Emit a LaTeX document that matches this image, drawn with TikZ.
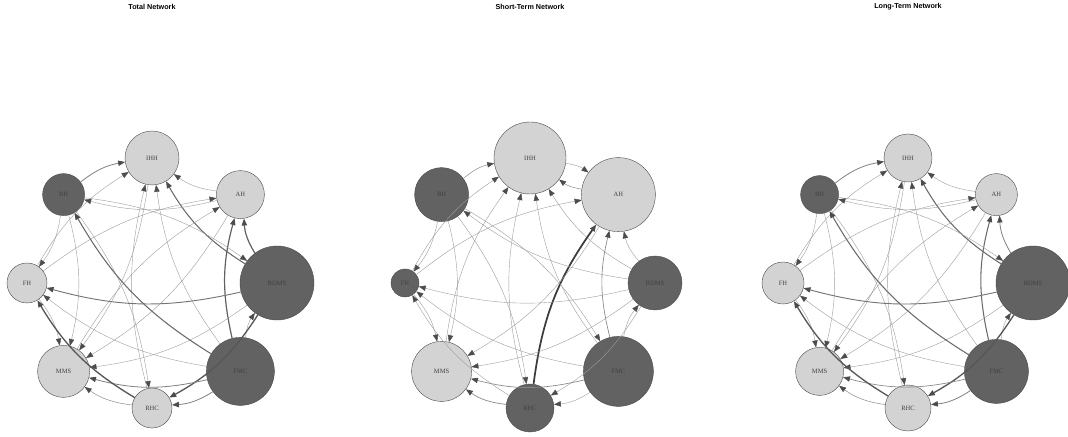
\documentclass[tikz,border=0pt]{standalone}
\usepackage{fontspec}
\setmainfont{Liberation Serif}
\newfontfamily\titlefont{Liberation Sans}
\usetikzlibrary{arrows.meta}
\definecolor{cLight}{HTML}{D3D3D3}
\definecolor{cDark}{HTML}{626262}
\definecolor{cHead}{HTML}{4C4C4C}
\definecolor{cRim}{HTML}{4A4A4A}
\tikzset{
  hosp/.style={circle,draw=cRim,line width=0.3pt,inner sep=0pt,
    font=\fontsize{4.9}{5}\selectfont,text=black!75},
  hosp-light/.style={hosp,fill=cLight},
  hosp-dark/.style={hosp,fill=cDark},
  link/.style={-{Triangle[length=5.2pt,width=4pt,color=cHead]},bend left=14},
  panel-title/.style={font=\titlefont\bfseries\fontsize{5.4}{6}\selectfont},
}

\begin{document}
\begin{tikzpicture}[x=0.75pt,y=0.75pt]
  \useasboundingbox (0,0) rectangle (1068,436);

  % total network
  \begin{scope}[shift={(152,153)}]
    \node[panel-title] (t-title) at (0,276) {Total Network};
    \foreach \n/\a/\d/\s in {IHH/90/40.5/light,AH/45/36/light,BDMS/0/55.5/dark,
        FMC/-45/51/dark,RHC/-90/30/light,MMS/-135/39/light,FH/180/30/light,BH/135/31.5/dark}
      \node[hosp-\s,minimum size=\d pt] (t-\n) at (\a:125) {\n};
    \foreach \a/\b/\w in {BH/IHH/0.6,FH/IHH/0.3,RHC/IHH/0.3,FMC/IHH/0.3,BDMS/IHH/0.8,
        AH/IHH/0.3,FH/AH/0.3,MMS/AH/0.3,FMC/AH/0.9,BDMS/AH/0.9,BH/BDMS/0.3,
        FMC/BDMS/0.3,BH/RHC/0.3,BDMS/RHC/1.0,FMC/RHC/0.6,FH/MMS/0.3,BH/MMS/0.3,
        IHH/MMS/0.3,AH/MMS/0.3,BDMS/MMS/0.3,FMC/MMS/0.6,RHC/MMS/0.4,BH/FH/0.3,
        BDMS/FH/0.7,FMC/FH/0.3,RHC/FH/1.0,AH/BH/0.3,FMC/BH/0.8}
    {
      \pgfmathtruncatemacro\shade{28+38*\w}
      \draw[link,line width=\w pt,draw=black!\shade] (t-\a) to (t-\b);
    }
  \end{scope}

  % short-term network
  \begin{scope}[shift={(530,153)}]
    \node[panel-title] (s-title) at (0,276) {Short-Term Network};
    \foreach \n/\a/\d/\s in {IHH/90/54/light,AH/45/55.5/light,BDMS/0/40.5/dark,
        FMC/-45/52.5/dark,RHC/-90/36/dark,MMS/-135/45/light,FH/180/21/dark,BH/135/40.5/dark}
      \node[hosp-\s,minimum size=\d pt] (s-\n) at (\a:125) {\n};
    \foreach \a/\b/\w in {BH/IHH/0.4,FH/IHH/0.3,MMS/IHH/0.3,RHC/IHH/0.3,FMC/IHH/0.3,
        BDMS/IHH/0.3,AH/IHH/0.4,IHH/AH/0.3,FH/AH/0.3,RHC/AH/1.3,FMC/AH/0.5,BDMS/AH/0.3,
        FMC/BDMS/0.3,BH/FMC/0.3,BH/RHC/0.3,BDMS/RHC/0.3,FMC/RHC/0.3,FH/MMS/0.3,
        BH/MMS/0.3,AH/MMS/0.3,BDMS/MMS/0.3,FMC/MMS/0.5,RHC/MMS/0.5,BH/FH/0.3,
        BDMS/FH/0.3,FMC/FH/0.3,RHC/FH/0.3,BDMS/BH/0.3}
    {
      \pgfmathtruncatemacro\shade{28+38*\w}
      \draw[link,line width=\w pt,draw=black!\shade] (s-\a) to (s-\b);
    }
  \end{scope}

  % long-term network
  \begin{scope}[shift={(908,153)}]
    \node[panel-title] (l-title) at (0,276) {Long-Term Network};
    \foreach \n/\a/\d/\s in {IHH/90/36/light,AH/45/31.5/light,BDMS/0/55.5/dark,
        FMC/-45/48/dark,RHC/-90/34.5/light,MMS/-135/36/light,FH/180/31.5/light,BH/135/28.5/dark}
      \node[hosp-\s,minimum size=\d pt] (l-\n) at (\a:125) {\n};
    \foreach \a/\b/\w in {BH/IHH/0.6,FH/IHH/0.3,RHC/IHH/0.3,FMC/IHH/0.3,BDMS/IHH/0.8,
        AH/IHH/0.3,FH/AH/0.3,MMS/AH/0.3,FMC/AH/0.8,BDMS/AH/0.6,BH/BDMS/0.3,
        FMC/BDMS/0.3,BH/RHC/0.3,BDMS/RHC/1.0,FMC/RHC/0.6,FH/MMS/0.3,BH/MMS/0.3,
        IHH/MMS/0.3,AH/MMS/0.3,BDMS/MMS/0.3,FMC/MMS/0.5,RHC/MMS/0.4,BH/FH/0.3,
        BDMS/FH/0.7,FMC/FH/0.3,RHC/FH/1.0,AH/BH/0.3,FMC/BH/0.8}
    {
      \pgfmathtruncatemacro\shade{28+38*\w}
      \draw[link,line width=\w pt,draw=black!\shade] (l-\a) to (l-\b);
    }
  \end{scope}
\end{tikzpicture}
\end{document}
